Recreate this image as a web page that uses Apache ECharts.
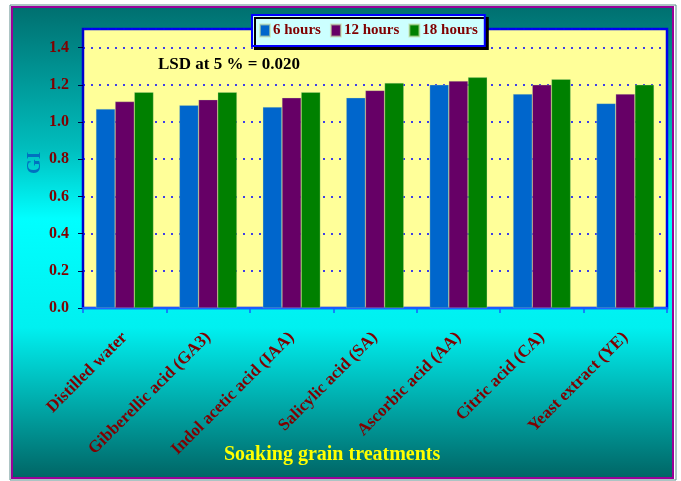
<!DOCTYPE html>
<html>
<head>
<meta charset="utf-8">
<script src="https://cdn.jsdelivr.net/npm/echarts@6/dist/echarts.min.js"></script>
<style>
html,body{margin:0;padding:0;background:#fff;}
#main{width:681px;height:481px;}
</style>
</head>
<body>
<div id="main"></div>
<script>
// treatments on x axis
var treatments=["Distilled water","Gibberellic acid (GA3)","Indol acetic acid (IAA)","Salicylic acid (SA)","Ascorbic acid (AA)","Citric acid (CA)","Yeast extract (YE)"];
var seriesNames=["6 hours","12 hours","18 hours"];
var h6=[1.07,1.09,1.08,1.13,1.20,1.15,1.10];
var h12=[1.11,1.12,1.13,1.17,1.22,1.20,1.15];
var h18=[1.16,1.16,1.16,1.21,1.24,1.23,1.20];
var barColors=['#0066CC','#660066','#008000'];
var lsdText="LSD at 5 % = 0.020";
var xTitle="Soaking grain treatments";

var serif='"Times New Roman","Liberation Serif",serif';
var myChart=echarts.init(document.getElementById('main'));

function bar(name,data,color){
	return {
		name:name,
		type:'bar',
		data:data,
		barGap:'0%',
		barCategoryGap:'31%',
		itemStyle:{color:color,borderColor:'rgba(200,220,160,0.6)',borderWidth:0.5}
	};
}

option={
	backgroundColor:'#ffffff',
	animation:false,
	graphic:[
		{type:'rect',z:-100,shape:{x:10,y:5,width:666,height:475},style:{fill:'none',stroke:'#5a8a8a',lineWidth:1}},
		{type:'rect',z:-99,shape:{x:12,y:7,width:661,height:471},
			style:{
				fill:new echarts.graphic.LinearGradient(0,0,0,1,[
					{offset:0,color:'#006F6F'},
					{offset:0.3,color:'#00BDBD'},
					{offset:0.45,color:'#00FFFF'},
					{offset:0.68,color:'#00F0F0'},
					{offset:1,color:'#006464'}
				]),
				stroke:'#990099',lineWidth:2
			}},
		{type:'text',z:100,left:158,top:56,
			style:{text:lsdText,font:'bold 17px '+serif,fill:'#000000'}},
		{type:'text',z:100,left:224,top:445,
			style:{text:xTitle,font:'bold 20px '+serif,fill:'#FFFF00'}},
		// GI axis title
		{type:'text',z:100,x:35,y:163,rotation:Math.PI/2,
			style:{text:'GI',font:'bold 19px '+serif,fill:'#0070C0',align:'center',verticalAlign:'middle'}}
	],
	legend:{
		data:seriesNames,
		left:252,
		top:15,
		padding:[8,7,8,7],
		itemGap:9,
		itemWidth:10,
		itemHeight:12,
		icon:'rect',
		backgroundColor:'#CCFFFF',
		borderColor:'#0000FF',
		borderWidth:2,
		shadowColor:'#000000',
		shadowOffsetX:3,
		shadowOffsetY:3,
		shadowBlur:0,
		textStyle:{color:'#800000',fontWeight:'bold',fontSize:15,fontFamily:serif,padding:[0,0,0,-2]}
	},
	grid:{
		left:83,
		right:14,
		top:29,
		bottom:173,
		show:true,
		backgroundColor:'#FFFF99',
		borderColor:'#0000EE',
		borderWidth:2.5
	},
	xAxis:{
		type:'category',
		data:treatments,
		axisLine:{lineStyle:{color:'#1a5cff',width:2}},
		axisTick:{show:true,length:5,lineStyle:{color:'#1a5cff',width:1.5}},
		axisLabel:{rotate:45,margin:27,color:'#800000',fontWeight:'bold',fontSize:17,fontFamily:serif,interval:0}
	},
	yAxis:{
		type:'value',
		min:0,
		max:1.5,
		interval:0.2,
		axisLine:{show:true,lineStyle:{color:'#0000CC',width:2}},
		axisTick:{show:true,length:5,lineStyle:{color:'#000040'}},
		axisLabel:{showMaxLabel:false,margin:14,color:'#800000',fontWeight:'bold',fontSize:16,fontFamily:serif,
			formatter:function(v){return v.toFixed(1);}},
		splitLine:{show:true,lineStyle:{color:'#0000FF',type:[2,6],width:1.5}}
	},
	series:[
		bar(seriesNames[0],h6,barColors[0]),
		bar(seriesNames[1],h12,barColors[1]),
		bar(seriesNames[2],h18,barColors[2])
	]
};
myChart.setOption(option);
</script>
</body>
</html>
